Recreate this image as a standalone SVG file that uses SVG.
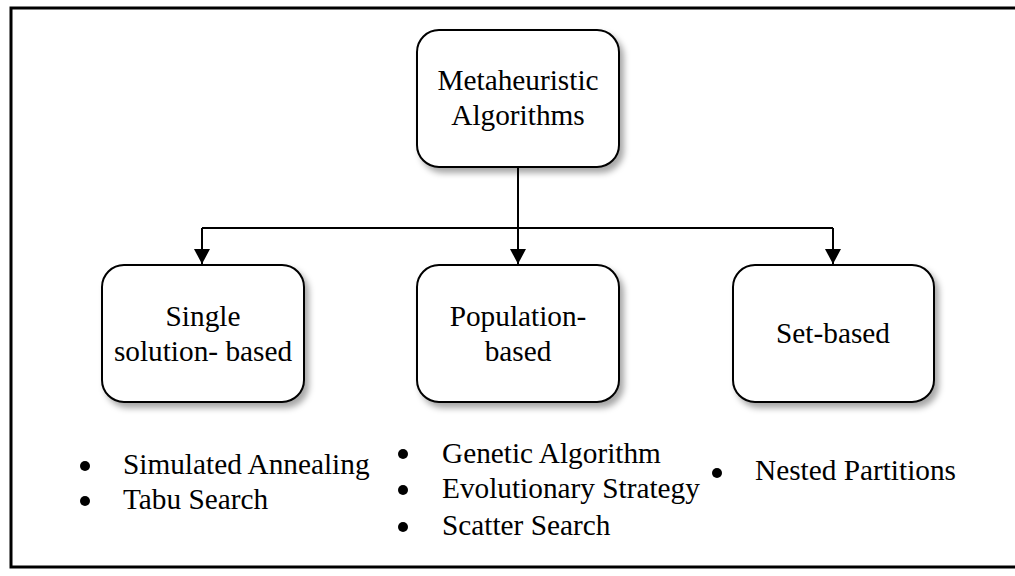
<svg xmlns="http://www.w3.org/2000/svg" width="1015" height="576" viewBox="0 0 1015 576">
<style>
.box{fill:#fff;stroke:#000;stroke-width:2;filter:url(#sh)}
.t{font-family:'Liberation Serif','Times New Roman','DejaVu Serif',serif;font-size:29.3px;fill:#000}
.c{text-anchor:middle}
.ln{fill:none;stroke:#000;stroke-width:2}
.b{fill:#000}
</style>
<defs>
<filter id="sh" x="-10%" y="-10%" width="130%" height="130%">
<feDropShadow dx="4" dy="5" stdDeviation="3" flood-color="#000" flood-opacity="0.35"/>
</filter>
<marker id="ah" viewBox="0 0 15 16" refX="15" refY="8" markerWidth="15" markerHeight="16" markerUnits="userSpaceOnUse" orient="auto">
<path d="M0,0 L15,8 L0,16 Z" fill="#000"/>
</marker>
</defs>
<rect width="1015" height="576" fill="#fff"/>
<rect x="11" y="8" width="1012" height="559" fill="none" stroke="#000" stroke-width="3"/>
<g id="connectors">
<path class="ln" d="M518,167 V228"/>
<path class="ln" d="M202,228 H833"/>
<path class="ln" d="M202,228 V264" marker-end="url(#ah)"/>
<path class="ln" d="M518,228 V264" marker-end="url(#ah)"/>
<path class="ln" d="M833,228 V264" marker-end="url(#ah)"/>
</g>
<g id="node-root">
<rect class="box" x="417" y="30" width="202" height="137" rx="22"/>
<text class="t c" x="518" y="90">Metaheuristic</text>
<text class="t c" x="518" y="125">Algorithms</text>
</g>
<g id="node-single">
<rect class="box" x="102" y="265" width="202" height="137" rx="22"/>
<text class="t c" x="203" y="326">Single</text>
<text class="t c" x="203" y="361">solution- based</text>
</g>
<g id="node-population">
<rect class="box" x="417" y="265" width="202" height="137" rx="22"/>
<text class="t c" x="518" y="326">Population-</text>
<text class="t c" x="518" y="361">based</text>
</g>
<g id="node-set">
<rect class="box" x="733" y="265" width="201" height="137" rx="22"/>
<text class="t c" x="833" y="343">Set-based</text>
</g>
<g id="list-single">
<circle class="b" cx="85" cy="466" r="5"/>
<text class="t" x="123" y="474">Simulated Annealing</text>
<circle class="b" cx="85" cy="501" r="5"/>
<text class="t" x="123" y="509">Tabu Search</text>
</g>
<g id="list-population">
<circle class="b" cx="403" cy="454" r="5"/>
<text class="t" x="442" y="463">Genetic Algorithm</text>
<circle class="b" cx="403" cy="490" r="5"/>
<text class="t" x="442" y="498">Evolutionary Strategy</text>
<circle class="b" cx="403" cy="527" r="5"/>
<text class="t" x="442" y="535">Scatter Search</text>
</g>
<g id="list-set">
<circle class="b" cx="717" cy="473" r="5"/>
<text class="t" x="755" y="480">Nested Partitions</text>
</g>
</svg>
